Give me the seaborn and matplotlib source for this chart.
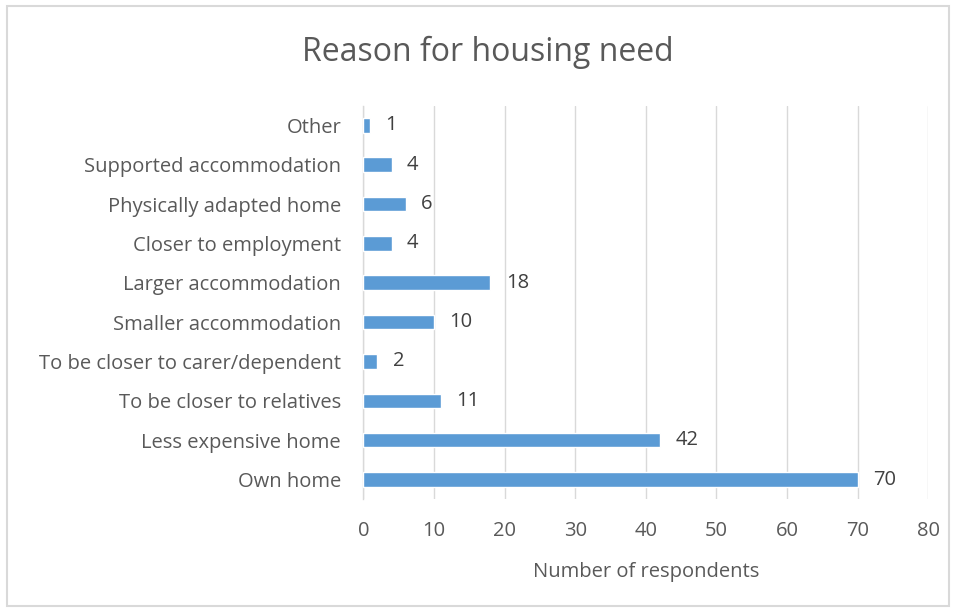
import matplotlib
matplotlib.use("Agg")
import matplotlib.pyplot as plt
import seaborn as sns
import pandas as pd
from matplotlib.patches import Rectangle

reasons = [
    "Other",
    "Supported accommodation",
    "Physically adapted home",
    "Closer to employment",
    "Larger accommodation",
    "Smaller accommodation",
    "To be closer to carer/dependent",
    "To be closer to relatives",
    "Less expensive home",
    "Own home",
]
respondents = [1, 4, 6, 4, 18, 10, 2, 11, 42, 70]
x_ticks = [0, 10, 20, 30, 40, 50, 60, 70, 80]

df = pd.DataFrame({"reason": reasons, "count": respondents})

sns.set_theme(style="white")
plt.rcParams["font.family"] = ["Open Sans", "DejaVu Sans"]
text_col = "#595959"
fs = 14.5

fig = plt.figure(figsize=(9.56, 6.11), dpi=100)
ax = fig.add_axes([0.380, 0.183, 0.591, 0.644])

sns.barplot(data=df, x="count", y="reason", color="#5B9BD5", width=0.37,
            saturation=1, ax=ax, zorder=3)

# labels on the bars
for p, v in zip(ax.patches, respondents):
    ax.annotate(f"{v}", (p.get_width(), p.get_y() + p.get_height() / 2),
                xytext=(11, 0), textcoords="offset points",
                ha="left", va="center", fontsize=fs, color="#404040")

ax.set_xlim(0, 80)
ax.set_xticks(x_ticks)
ax.xaxis.grid(True, color="#D9D9D9", linewidth=1, zorder=0)
for s in ["top", "right", "bottom"]:
    ax.spines[s].set_visible(False)
ax.spines["left"].set_color("#D9D9D9")
ax.spines["left"].set_linewidth(1)
ax.tick_params(axis="both", length=0, labelsize=fs, colors=text_col)
ax.tick_params(axis="y", pad=16)
ax.tick_params(axis="x", pad=16)
ax.set_ylabel("")
ax.set_xlabel("Number of respondents", fontsize=fs, color=text_col, labelpad=15)

fig.suptitle("Reason for housing need", fontsize=23, color=text_col, x=0.51, y=0.942)

fig.patches.append(Rectangle((0.007, 0.008), 0.986, 0.982, transform=fig.transFigure,
                             fill=False, edgecolor="#D9D9D9", linewidth=1.5))

plt.savefig("out.png", dpi=100)
